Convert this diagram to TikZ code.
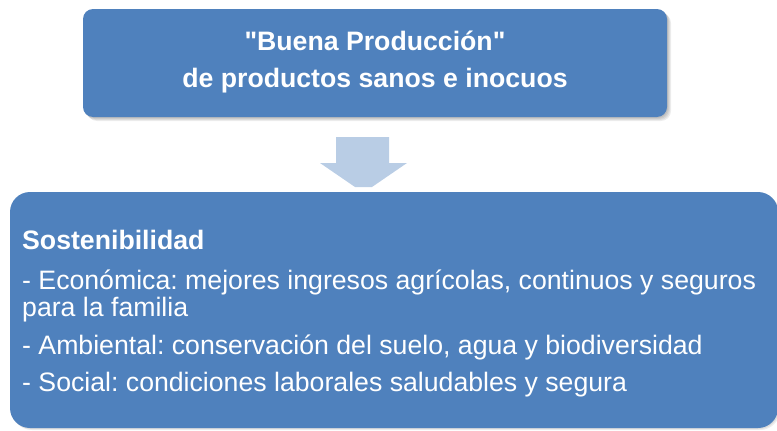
\documentclass[tikz,border=0pt]{standalone}
\usepackage{fontspec}
\setmainfont{Liberation Sans}[Ligatures=TeXOff]
\definecolor{boxblue}{HTML}{4F81BD}
\definecolor{arrowblue}{HTML}{B9CDE5}
\frenchspacing
\begin{document}
\frenchspacing
\begin{tikzpicture}[x=1pt,y=-1pt,
  bluebox/.style={fill=boxblue, draw=none, inner sep=0pt, rectangle},
  shade1/.style={fill=black, opacity=0.07, draw=none},
  txtc/.style={text=white, font=\bfseries\fontsize{26.67}{30}\selectfont, inner sep=0pt, anchor=base},
  txtl/.style={text=white, font=\fontsize{26.67}{30}\selectfont, inner sep=0pt, anchor=base west},
  txtlb/.style={txtl, font=\bfseries\fontsize{26.67}{30}\selectfont}]
\useasboundingbox (0,0) rectangle (777,431);
% shadow of top box
\foreach \d in {1,2,3,4}{
  \fill[shade1, rounded corners=10pt] (83+\d,9+\d) rectangle (667+\d,117+\d);
}
\node[bluebox, rounded corners=10pt, minimum width=584pt, minimum height=108pt] (top) at (375,63) {};
\node[txtc] (t1) at (375,50) {"Buena Producción"};
\node[txtc] (t2) at (375,87) {de productos sanos e inocuos};
% block arrow
\fill[arrowblue] (336,137) -- (389,137) -- (389,163) -- (407,163) -- (372,187) -- (355,187) -- (320,163) -- (336,163) -- cycle;
% shadow of bottom box
\foreach \d in {1,2}{
  \fill[shade1, rounded corners=20pt] (10+\d,192+\d) rectangle (778+\d,428+\d);
}
\node[bluebox, rounded corners=20pt, minimum width=768pt, minimum height=236pt] (bot) at (394,310) {};
\node[txtlb] (s0) at (22,249) {Sostenibilidad};
\node[txtl] (s1) at (22,289) {- Económica: mejores ingresos agrícolas, continuos y seguros};
\node[txtl] (s1b) at (22,316) {para la familia};
\node[txtl] (s2) at (22,354) {- Ambiental: conservación del suelo, agua y biodiversidad};
\node[txtl] (s3) at (22,391) {- Social: condiciones laborales saludables y segura};
\end{tikzpicture}
\end{document}
